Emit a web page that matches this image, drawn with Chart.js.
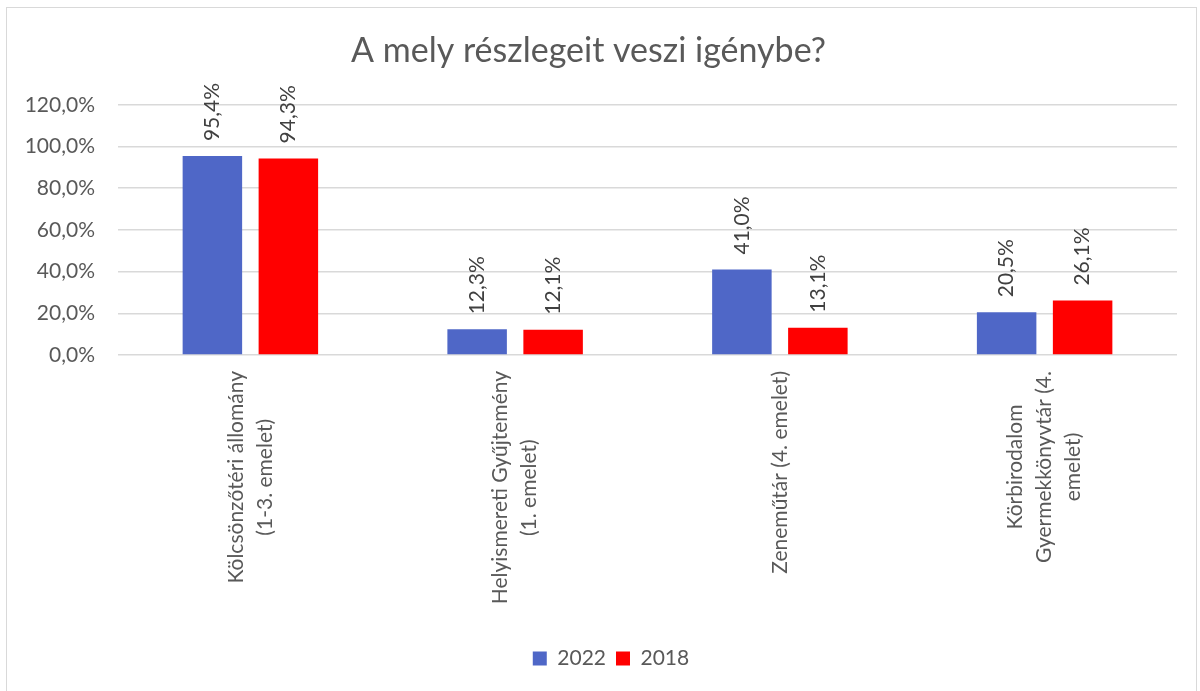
<!DOCTYPE html>
<html>
<head>
<meta charset="utf-8">
<script src="https://cdn.jsdelivr.net/npm/chart.js@4.4.1/dist/chart.umd.min.js"></script>
<style>
  html, body { margin: 0; padding: 0; background: #fff; overflow: hidden; }
  #frame { position: absolute; left: 6px; top: 7px; width: 1189px; height: 720px; border: 1px solid #d9d9d9; }
  #wrap { position: absolute; left: 0; top: 0; width: 1200px; height: 691px; }
</style>
</head>
<body>
<div id="frame"></div>
<div id="wrap"><canvas id="chart"></canvas></div>
<script>
// categories (multi-line, as in the original axis)
const categories = [
  ['Kölcsönzőtéri állomány', '(1-3. emelet)'],
  ['Helyismereti Gyűjtemény', '(1. emelet)'],
  ['Zeneműtár (4. emelet)'],
  ['Körbirodalom', 'Gyermekkönyvtár (4.', 'emelet)'],
];
const seriesNames = ['2022', '2018'];
const values2022 = [95.4, 12.3, 41.0, 20.5];
const values2018 = [94.3, 12.1, 13.1, 26.1];
const yMin = 0;
const yMax = 120;
const yStep = 20;

const textGrey = '#595959';
const labelGrey = '#404040';
const fontFamily = 'Lato, "Open Sans", sans-serif';
const fontSize = 21;

function fmtPct(v) {
  return v.toFixed(1).replace('.', ',') + '%';
}

// value labels, rotated, sitting above each bar
const valueLabels = {
  id: 'valueLabels',
  afterDatasetsDraw(chart) {
    const ctx = chart.ctx;
    ctx.save();
    ctx.font = fontSize + 'px ' + fontFamily;
    ctx.fillStyle = labelGrey;
    chart.data.datasets.forEach((ds, di) => {
      const meta = chart.getDatasetMeta(di);
      meta.data.forEach((bar, i) => {
        ctx.save();
        ctx.translate(bar.x, bar.y - 15);
        ctx.rotate(-Math.PI / 2);
        ctx.textAlign = 'left';
        ctx.textBaseline = 'middle';
        ctx.fillText(fmtPct(ds.data[i]), 0, 0);
        ctx.restore();
      });
    });
    ctx.restore();
  }
};

// category labels: rotated, lines centered on each other (chart.js right-aligns them)
const categoryLabels = {
  id: 'categoryLabels',
  afterDraw(chart) {
    const ctx = chart.ctx;
    const xs = chart.scales.x;
    ctx.save();
    ctx.font = fontSize + 'px ' + fontFamily;
    ctx.fillStyle = textGrey;
    ctx.textAlign = 'center';
    ctx.textBaseline = 'middle';
    categories.forEach((lines, i) => {
      const x = xs.getPixelForValue(i);
      const maxW = Math.max(...lines.map(l => ctx.measureText(l).width));
      lines.forEach((line, j) => {
        const lx = x + (j - (lines.length - 1) / 2) * 29;
        ctx.save();
        ctx.translate(lx, xs.top + 16);
        ctx.rotate(-Math.PI / 2);
        ctx.fillText(line, -maxW / 2, 0);
        ctx.restore();
      });
    });
    ctx.restore();
  }
};

// the legend in the original is centred a bit right of the canvas middle
const legendShift = {
  id: 'legendShift',
  afterLayout(chart) {
    if (chart.legend) chart.legend.left += 45;
  }
};

const ctx = document.getElementById('chart').getContext('2d');
const myChart = new Chart(ctx, {
  type: 'bar',
  data: {
    labels: categories.map(c => c.join(' ')),
    datasets: [{
      label: seriesNames[0],
      data: values2022,
      backgroundColor: '#4f67c7',
      categoryPercentage: 0.574,
      barPercentage: 0.783,
    }, {
      label: seriesNames[1],
      data: values2018,
      backgroundColor: '#ff0000',
      categoryPercentage: 0.574,
      barPercentage: 0.783,
    }]
  },
  options: {
    responsive: true,
    maintainAspectRatio: false,
    animation: false,
    layout: {
      padding: { left: 0, right: 23, top: 0, bottom: 12 }
    },
    plugins: {
      title: {
        display: true,
        text: 'A mely részlegeit veszi igénybe?',
        color: textGrey,
        font: { size: 34, weight: 'normal', family: fontFamily },
        padding: { top: 31, bottom: 33 }
      },
      legend: {
        position: 'bottom',
        labels: {
          color: textGrey,
          boxWidth: 14,
          boxHeight: 14,
          padding: 10,
          font: { size: fontSize, family: fontFamily }
        }
      },
      tooltip: { enabled: false }
    },
    scales: {
      y: {
        min: yMin,
        max: yMax,
        afterFit(scale) { scale.width = 118; },
        grid: {
          drawTicks: false,
          color: '#d9d9d9',
          lineWidth: 1.5
        },
        border: { display: false },
        ticks: {
          stepSize: yStep,
          padding: 23,
          color: textGrey,
          font: { size: fontSize, family: fontFamily },
          callback: v => fmtPct(v)
        }
      },
      x: {
        afterFit(scale) { scale.height = 283; },
        grid: { display: false },
        border: { display: false },
        ticks: { display: false }
      }
    }
  },
  plugins: [valueLabels, categoryLabels, legendShift]
});
</script>
</body>
</html>
